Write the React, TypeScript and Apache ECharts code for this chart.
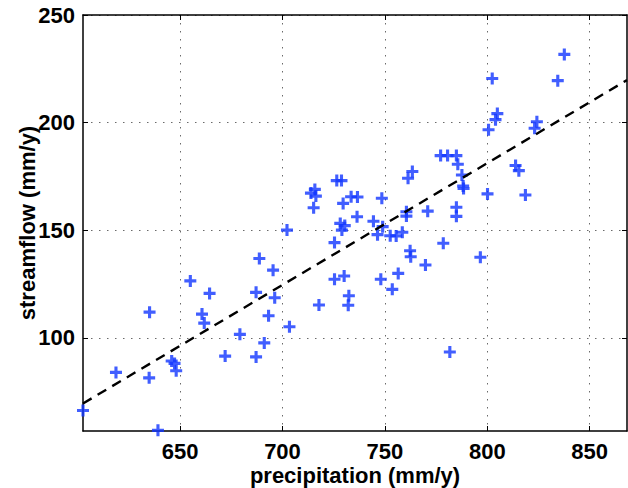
import React, { useEffect, useRef } from "react";
import * as echarts from "echarts";

// precipitation (mm/y) of each observation
const precipitation = [
  602.6, 618.7, 635.1, 634.9, 639.2, 645.9, 647.3, 648.1, 655.0, 660.7,
  661.8, 664.4, 672.0, 679.2, 687.1, 688.7, 687.1, 691.1, 693.2, 695.4,
  696.2, 702.2, 703.4, 717.8, 725.4, 725.4, 730.1, 732.4, 732.1, 713.9,
  715.8, 716.3, 715.2, 726.5, 728.8, 729.6, 733.5, 736.6, 748.5, 736.4,
  728.2, 730.4, 729.0, 744.4, 748.9, 746.4, 752.6, 755.5, 758.5, 760.5,
  760.5, 770.9, 762.3, 762.6, 769.8, 756.5, 753.6, 748.0, 778.5, 796.6,
  781.7, 784.9, 784.9, 763.4, 761.3, 777.2, 780.6, 784.9, 785.6, 787.6,
  788.2, 788.4, 800.1, 818.6, 813.8, 815.4, 800.6, 804.9, 804.0, 802.4,
  824.2, 823.1, 834.4, 837.6,
];

// streamflow (mm/y) of each observation
const streamflow = [
  66.3, 84.0, 112.0, 81.5, 57.1, 89.3, 88.2, 84.8, 126.5, 111.1,
  106.9, 120.7, 91.6, 101.7, 91.2, 136.9, 121.2, 97.7, 110.3, 131.5,
  118.7, 150.1, 105.2, 115.3, 144.3, 127.3, 128.8, 119.6, 115.2, 167.3,
  169.0, 165.9, 160.5, 173.1, 173.1, 162.5, 165.6, 165.5, 164.9, 156.3,
  153.2, 152.2, 150.1, 154.2, 151.7, 148.0, 147.5, 147.4, 149.1, 158.6,
  156.6, 158.9, 140.5, 137.7, 133.9, 130.0, 122.6, 127.3, 144.0, 137.5,
  93.5, 160.7, 156.5, 177.3, 174.2, 184.7, 184.7, 184.7, 180.7, 175.7,
  170.6, 169.4, 166.9, 166.4, 180.1, 177.7, 196.7, 204.2, 201.4, 220.5,
  200.4, 197.4, 219.5, 231.7,
];

// linear fit: streamflow = fitSlope * precipitation + fitIntercept
const fitSlope = [0.5655];
const fitIntercept = [-271.2];

const xRange = [602.6, 868.2];
const yRange = [56.8, 250];
const xTicks = [650, 700, 750, 800, 850];
const yTicks = [100, 150, 200, 250];

const xName = "precipitation (mm/y)";
const yName = "streamflow (mm/y)";

const FONT = "'Liberation Sans', Arial, Helvetica, sans-serif";
const PLUS = "path://M37,0H63V37H100V63H63V100H37V63H0V37H37Z";

export default function App() {
  const ref = useRef<HTMLDivElement>(null);

  useEffect(() => {
    if (!ref.current) return;
    const chart = echarts.init(ref.current, undefined, { renderer: "svg" });

    const points = precipitation.map((p, i) => [p, streamflow[i]]);
    const fitLine = [xRange[0], xRange[1]].map((x) => [
      x,
      fitSlope[0] * x + fitIntercept[0],
    ]);

    const labelStyle = {
      fontSize: 22,
      fontWeight: "bold" as const,
      color: "#000",
      fontFamily: FONT,
    };
    const axisLine = {
      show: true,
      onZero: false,
      lineStyle: { color: "#000", width: 1.5 },
    };
    const gridLine = {
      show: true,
      lineStyle: { type: [1.5, 6.5], color: "#6a6a6a", width: 1 },
    };

    chart.setOption({
      animation: false,
      backgroundColor: "#fff",
      grid: {
        left: 83,
        right: 1,
        top: 15,
        bottom: 57,
        containLabel: false,
        outerBoundsMode: "none",
      },
      xAxis: [
        {
          type: "value",
          position: "bottom",
          min: xRange[0],
          max: xRange[1],
          axisLine,
          axisTick: {
            show: true,
            inside: true,
            length: 5,
            customValues: xTicks,
            lineStyle: { color: "#000", width: 1 },
          },
          axisLabel: {
            ...labelStyle,
            lineHeight: 18,
            customValues: xTicks,
            margin: 11,
          },
          splitLine: gridLine,
          name: xName,
          nameLocation: "middle",
          nameGap: 34,
          nameMoveOverlap: false,
          nameTextStyle: { ...labelStyle, lineHeight: 20 },
        },
        {
          type: "value",
          position: "top",
          min: xRange[0],
          max: xRange[1],
          axisLine,
          axisTick: {
            show: true,
            inside: true,
            length: 5,
            customValues: xTicks,
            lineStyle: { color: "#000", width: 1 },
          },
          axisLabel: { show: false },
          splitLine: { show: false },
        },
      ],
      yAxis: [
        {
          type: "value",
          position: "left",
          min: yRange[0],
          max: yRange[1],
          axisLine,
          axisTick: {
            show: true,
            inside: true,
            length: 5,
            customValues: yTicks,
            lineStyle: { color: "#000", width: 1 },
          },
          axisLabel: {
            ...labelStyle,
            lineHeight: 18,
            customValues: yTicks,
            margin: 8,
          },
          splitLine: gridLine,
          name: yName,
          nameLocation: "middle",
          nameGap: 45,
          nameRotate: 90,
          nameMoveOverlap: false,
          nameTextStyle: labelStyle,
        },
        {
          type: "value",
          position: "right",
          min: yRange[0],
          max: yRange[1],
          axisLine,
          axisTick: {
            show: true,
            inside: true,
            length: 5,
            customValues: yTicks,
            lineStyle: { color: "#000", width: 1 },
          },
          axisLabel: { show: false },
          splitLine: { show: false },
        },
      ],
      series: [
        {
          type: "scatter",
          xAxisIndex: 0,
          yAxisIndex: 0,
          data: points,
          symbol: PLUS,
          symbolSize: 12,
          itemStyle: { color: "#1236ff" },
          z: 2,
        },
        {
          type: "line",
          xAxisIndex: 0,
          yAxisIndex: 0,
          data: fitLine,
          showSymbol: false,
          symbol: "none",
          lineStyle: { color: "#000", width: 2.4, type: [10, 7] },
          clip: true,
          z: 3,
        },
      ],
    });

    return () => chart.dispose();
  }, []);

  return (
    <div
      ref={ref}
      style={{
        position: "fixed",
        left: 0,
        top: 0,
        width: 628,
        height: 488,
        background: "#fff",
      }}
    />
  );
}
